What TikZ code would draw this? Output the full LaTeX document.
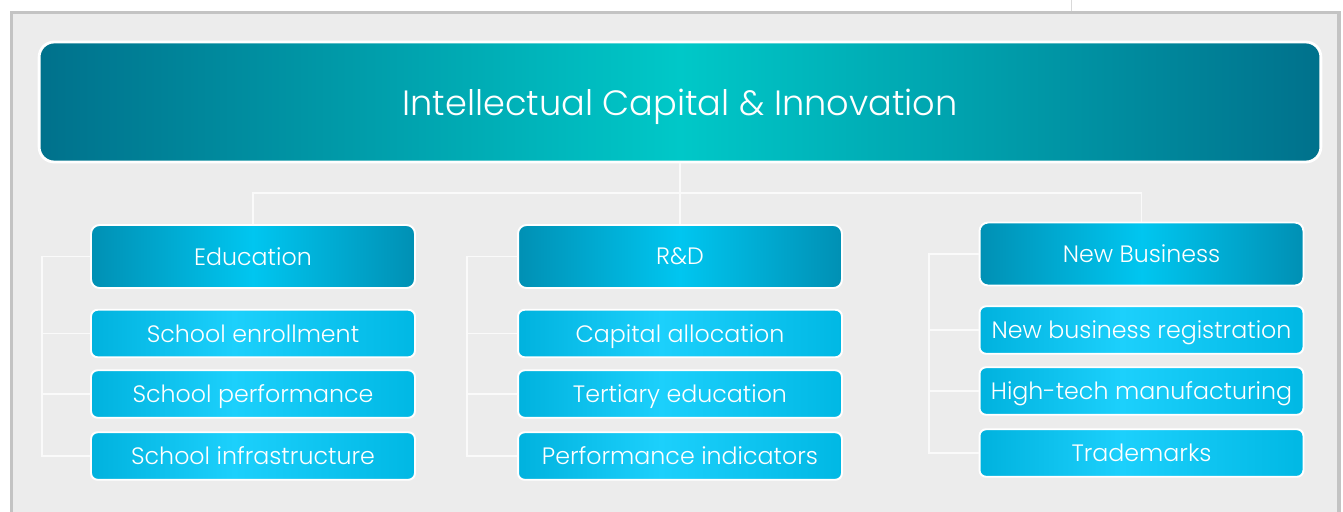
\documentclass[tikz,border=0pt]{standalone}
\usepackage{fontspec}
\setmainfont{Poppins}[UprightFont={* Light}]
\definecolor{framegray}{HTML}{C3C3C3}
\definecolor{paper}{HTML}{ECECEC}
\definecolor{headedge}{HTML}{00718C}
\definecolor{headmid}{HTML}{00C8C8}
\definecolor{catedge}{HTML}{0090B4}
\definecolor{catmid}{HTML}{00C6F0}
\definecolor{subedge}{HTML}{00B2DE}
\definecolor{submid}{HTML}{1CD0FC}
\definecolor{subright}{HTML}{00B8E4}
\definecolor{linewhite}{HTML}{FAFAFA}
\pgfdeclarehorizontalshading{headshade}{100bp}{color(0bp)=(headedge); color(25bp)=(headedge); color(50bp)=(headmid); color(75bp)=(headedge); color(100bp)=(headedge)}
\pgfdeclarehorizontalshading{catshade}{100bp}{color(0bp)=(catedge); color(25bp)=(catedge); color(50bp)=(catmid); color(75bp)=(catedge); color(100bp)=(catedge)}
\pgfdeclarehorizontalshading{subshade}{100bp}{color(0bp)=(subedge); color(25bp)=(subedge); color(47bp)=(submid); color(75bp)=(subright); color(100bp)=(subright)}
\begin{document}
\begin{tikzpicture}[x=0.02cm, y=-0.02cm,
    headbox/.style={shade, shading=headshade, draw=white, line width=1.6pt,
      rounded corners=0.3cm, text=white, inner sep=0pt, text depth=0pt,
      minimum width=25.64cm, minimum height=2.4cm,
      font=\fontsize{20}{24}\selectfont},
    catbox/.style={shade, shading=catshade, draw=white, line width=1.1pt,
      rounded corners=0.17cm, text=white, inner sep=0pt, text depth=0pt,
      minimum width=6.48cm, minimum height=1.26cm,
      font=\fontsize{13.5}{16}\selectfont},
    subbox/.style={shade, shading=subshade, draw=white, line width=1.1pt,
      rounded corners=0.13cm, text=white, inner sep=0pt, text depth=0pt,
      minimum width=6.48cm, minimum height=0.95cm,
      font=\fontsize{13.5}{16}\selectfont},
    wire/.style={draw=linewhite, line width=0.9pt}]
  \useasboundingbox (0,0) rectangle (1343,511);
  \clip (0,0) rectangle (1343,511);
  % page and frame
  \fill[white] (0,0) rectangle (1343,511);
  \fill[framegray] (10,11) rectangle (1341,520);
  \fill[paper] (13,14) rectangle (1337,520);
  \draw[gray!30, line width=0.5pt] (1071,0) -- (1071,11);

  % title
  \node[headbox] (head) at (680,102) {Intellectual Capital \& Innovation};

  % categories
  \node[catbox] (edu) at (253,256.5) {Education};
  \node[catbox] (rnd) at (680,256.5) {R\&D};
  \node[catbox] (nbiz) at (1141.5,254) {New Business};

  % items
  \node[subbox] (edu1) at (253,333.5) {School enrollment};
  \node[subbox] (edu2) at (253,394) {School performance};
  \node[subbox] (edu3) at (253,456) {School infrastructure};
  \node[subbox] (rnd1) at (680,333.5) {Capital allocation};
  \node[subbox] (rnd2) at (680,394) {Tertiary education};
  \node[subbox] (rnd3) at (680,456) {Performance indicators};
  \node[subbox] (nbiz1) at (1141.5,330) {New business registration};
  \node[subbox] (nbiz2) at (1141.5,391) {High-tech manufacturing};
  \node[subbox] (nbiz3) at (1141.5,453) {Trademarks};

  % tree lines
  \coordinate (hub) at (680,193);
  \draw[wire] (head.south) -- (rnd.north);
  \draw[wire] (edu.north) |- (hub) -| (nbiz.north);

  \coordinate (edurail) at (42,456);
  \coordinate (rndrail) at (467,456);
  \coordinate (nbizrail) at (929,453);
  \draw[wire] (edu.west) -| (edurail) -- (edu3.west);
  \draw[wire] (rnd.west) -| (rndrail) -- (rnd3.west);
  \draw[wire] (nbiz.west) -| (nbizrail) -- (nbiz3.west);
  \foreach \n in {1,2} {
    \draw[wire] (edu\n.west) -- (edu\n.west -| edurail);
    \draw[wire] (rnd\n.west) -- (rnd\n.west -| rndrail);
    \draw[wire] (nbiz\n.west) -- (nbiz\n.west -| nbizrail);
  }
\end{tikzpicture}
\end{document}
